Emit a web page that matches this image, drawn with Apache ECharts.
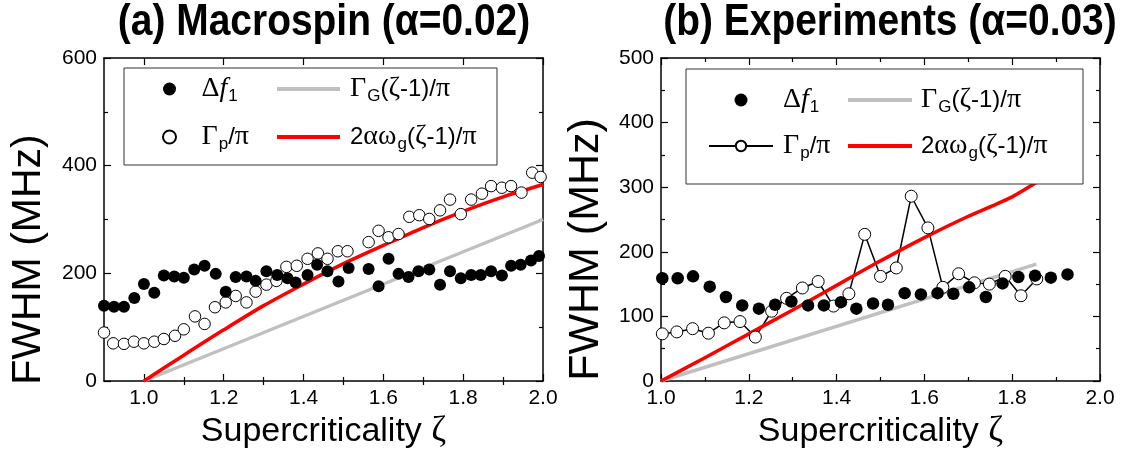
<!DOCTYPE html>
<html><head><meta charset="utf-8">
<script src="https://cdn.jsdelivr.net/npm/echarts@6/dist/echarts.min.js"></script>
<style>html,body{margin:0;padding:0;background:#fff}#c{width:1126px;height:460px}</style>
</head><body><div id="c"></div>
<script>
// ---------- data ----------
const titleA = '(a) Macrospin (α=0.02)';
const titleB = '(b) Experiments (α=0.03)';
const xMajorA = [1.0, 1.2, 1.4, 1.6, 1.8, 2.0];
const xMinorA = [1.1, 1.3, 1.5, 1.7, 1.9];

// panel (a) macrospin
const dfA = [[0.9,140],[0.925,138],[0.95,138],[0.976,154],[1.0,180],[1.026,164],[1.05,196],[1.076,194],[1.10,192],[1.126,207],[1.152,214],[1.18,199],[1.205,166],[1.23,193],[1.257,194],[1.28,186],[1.307,204],[1.334,197],[1.36,191],[1.38,183],[1.41,197],[1.434,216],[1.46,204],[1.4875,185],[1.513,210],[1.563,208],[1.588,176],[1.613,227],[1.638,199],[1.663,193],[1.688,204],[1.715,207],[1.742,179],[1.767,204],[1.794,191],[1.82,197],[1.844,197],[1.87,204],[1.897,196],[1.92,214],[1.944,216],[1.97,224],[1.99,232]];
const gpA = [[0.9,90],[0.923,70],[0.95,69],[0.975,73],[1.0,70],[1.026,73],[1.05,78],[1.078,84],[1.10,96],[1.128,120],[1.152,106],[1.178,137],[1.205,146],[1.23,158],[1.257,146],[1.28,166],[1.307,179],[1.332,186],[1.357,212],[1.383,214],[1.41,227],[1.436,237],[1.46,227],[1.486,241],[1.51,241],[1.563,258],[1.588,279],[1.613,267],[1.638,273],[1.665,305],[1.69,308],[1.715,301],[1.742,317],[1.767,337],[1.794,310],[1.82,337],[1.847,348],[1.87,362],[1.897,359],[1.92,362],[1.946,350],[1.973,387],[1.994,379]];
const gammaGA = [[1.0,0],[2.0,300]];
const alphaA = [[1.0,0],[1.1,48],[1.2,95],[1.3,140],[1.4,180],[1.5,218],[1.6,252],[1.7,285],[1.8,315],[1.9,342],[2.0,365]];

// panel (b) experiments
const dfB = [[1.003,159],[1.038,159],[1.073,162],[1.111,146],[1.148,130],[1.185,117],[1.223,112],[1.26,118],[1.297,123],[1.335,117],[1.371,117],[1.41,122],[1.445,112],[1.483,120],[1.517,118],[1.555,136],[1.592,134],[1.63,136],[1.666,135],[1.702,145],[1.74,130],[1.778,151],[1.814,161],[1.852,163],[1.888,160],[1.926,165]];
const gpB = [[1.003,73],[1.036,76],[1.072,81],[1.108,74],[1.144,90],[1.18,92],[1.215,68],[1.252,108],[1.286,128],[1.322,144],[1.358,154],[1.393,116],[1.428,135],[1.464,227],[1.5,162],[1.536,175],[1.57,286],[1.608,237],[1.642,145],[1.678,166],[1.714,152],[1.748,150],[1.784,162],[1.82,132],[1.856,158]];
const gammaGB = [[1.0,0],[1.855,181]];
const alphaB = [[1.0,0],[1.1,36],[1.2,73],[1.3,110],[1.4,148],[1.5,186],[1.6,222],[1.7,255],[1.8,285],[1.92,335]];

// ---------- styling ----------
const SANS = 'Liberation Sans, Arial, sans-serif';
const SERIF = 'Liberation Serif, Times New Roman, serif';
const legRich = {
  t: {fontFamily: SANS, fontSize: 24, color: '#000'},
  g: {fontFamily: SERIF, fontSize: 28, color: '#000'},
  gi: {fontFamily: SERIF, fontSize: 28, fontStyle: 'italic', color: '#000'},
  s: {fontFamily: SANS, fontSize: 17, color: '#000', padding: [15, 0, 0, 1]}
};
const legendText = {
  'dfA': '{g|Δ}{gi|f}{s|1}', 'dfB': '{g|Δ}{gi|f}{s|1}',
  'gpA': '{g|Γ}{s|p}{t|/}{g|π}', 'gpB': '{g|Γ}{s|p}{t|/}{g|π}',
  'ggA': '{g|Γ}{s|G}{t|(}{g|ζ}{t|-1)/}{g|π}', 'ggB': '{g|Γ}{s|G}{t|(}{g|ζ}{t|-1)/}{g|π}',
  'alA': '{t|2}{g|αω}{s|g}{t|(}{g|ζ}{t|-1)/}{g|π}', 'alB': '{t|2}{g|αω}{s|g}{t|(}{g|ζ}{t|-1)/}{g|π}'
};
const fmtLeg = n => legendText[n];

const lineAxis = {show: true, onZero: false, lineStyle: {color: '#000', width: 1.5}};
const tickStyle = {color: '#000', width: 1.2};
const labelStyle = {color: '#000', fontFamily: SANS, fontSize: 21, margin: 7};
const xName = {
  name: '{a|Supercriticality }{g|ζ}', nameLocation: 'middle', nameGap: 30,
  nameTextStyle: {rich: {a: {fontFamily: SANS, fontSize: 34, color: '#000'}, g: {fontFamily: SERIF, fontSize: 36, color: '#000'}}}
};
const titleStyle = {fontFamily: SANS, fontWeight: 'bold', fontSize: 44, fill: '#000', textAlign: 'center', textVerticalAlign: 'middle'};

function xAx(grid, pos, opts) {
  return Object.assign({type: 'value', gridIndex: grid, position: pos, axisLine: lineAxis,
    splitLine: {show: false}, axisLabel: {show: false}}, opts);
}

const option = {
  animation: false,
  backgroundColor: '#fff',
  grid: [
    {left: 104, right: 583, top: 58, bottom: 79},
    {left: 661, right: 26, top: 58, bottom: 79}
  ],
  xAxis: [
    xAx(0, 'bottom', Object.assign({min: 0.9, max: 2.0, interval: 0.1,
      axisTick: {inside: true, length: 7, lineStyle: tickStyle, customValues: xMajorA},
      axisLabel: Object.assign({show: true, customValues: xMajorA, formatter: v => v.toFixed(1)}, labelStyle)}, xName)),
    xAx(0, 'bottom', {min: 0.9, max: 2.0, interval: 0.1, axisLine: {show: false},
      axisTick: {inside: true, length: 4, lineStyle: tickStyle, customValues: xMinorA}}),
    xAx(0, 'top', {min: 0.9, max: 2.0, interval: 0.1,
      axisTick: {inside: true, length: 7, lineStyle: tickStyle, customValues: xMajorA}}),
    xAx(0, 'top', {min: 0.9, max: 2.0, interval: 0.1, axisLine: {show: false},
      axisTick: {inside: true, length: 4, lineStyle: tickStyle, customValues: xMinorA}}),
    xAx(1, 'bottom', Object.assign({min: 1.0, max: 2.0, interval: 0.2,
      axisTick: {inside: true, length: 7, lineStyle: tickStyle},
      minorTick: {show: true, splitNumber: 2, length: 4, lineStyle: tickStyle},
      axisLabel: Object.assign({show: true, formatter: v => v.toFixed(1)}, labelStyle)}, xName)),
    xAx(1, 'top', {min: 1.0, max: 2.0, interval: 0.2,
      axisTick: {inside: true, length: 7, lineStyle: tickStyle},
      minorTick: {show: true, splitNumber: 2, length: 4, lineStyle: tickStyle}})
  ],
  yAxis: [
    {type: 'value', gridIndex: 0, position: 'left', min: 0, max: 600, interval: 200, axisLine: lineAxis, splitLine: {show: false},
     axisTick: {inside: true, length: 7, lineStyle: tickStyle}, minorTick: {show: true, splitNumber: 2, length: 4, lineStyle: tickStyle},
     axisLabel: labelStyle, name: 'FWHM (MHz)', nameLocation: 'middle', nameGap: 55,
     nameTextStyle: {fontFamily: SANS, fontSize: 41, color: '#000', padding: [0, 80, 0, 0]}},
    {type: 'value', gridIndex: 0, position: 'right', min: 0, max: 600, interval: 200, axisLine: lineAxis, splitLine: {show: false},
     axisTick: {inside: true, length: 7, lineStyle: tickStyle}, minorTick: {show: true, splitNumber: 2, length: 4, lineStyle: tickStyle},
     axisLabel: {show: false}},
    {type: 'value', gridIndex: 1, position: 'left', min: 0, max: 500, interval: 100, axisLine: lineAxis, splitLine: {show: false},
     axisTick: {inside: true, length: 7, lineStyle: tickStyle}, minorTick: {show: true, splitNumber: 2, length: 4, lineStyle: tickStyle},
     axisLabel: labelStyle, name: 'FWHM (MHz)', nameLocation: 'middle', nameGap: 53,
     nameTextStyle: {fontFamily: SANS, fontSize: 43, color: '#000', padding: [0, 60, 0, 0]}},
    {type: 'value', gridIndex: 1, position: 'right', min: 0, max: 500, interval: 100, axisLine: lineAxis, splitLine: {show: false},
     axisTick: {inside: true, length: 7, lineStyle: tickStyle}, minorTick: {show: true, splitNumber: 2, length: 4, lineStyle: tickStyle},
     axisLabel: {show: false}}
  ],
  graphic: [
    {type: 'text', z: 5, x: 324, y: 23, scaleX: 0.885, style: Object.assign({text: titleA}, titleStyle)},
    {type: 'text', z: 5, x: 890, y: 23, scaleX: 0.885, style: Object.assign({text: titleB}, titleStyle)},
    {type: 'rect', z: 3, shape: {x: 124, y: 68, width: 373, height: 97}, style: {fill: '#fff', stroke: '#333', lineWidth: 1}},
    {type: 'rect', z: 3, shape: {x: 686, y: 69, width: 397, height: 115}, style: {fill: '#fff', stroke: '#333', lineWidth: 1}}
  ],
  legend: [
    {data: ['dfA', 'gpA'], orient: 'vertical', left: 162, top: 75, padding: 0, itemWidth: 54, itemHeight: 13, itemGap: 18,
     formatter: fmtLeg, textStyle: {rich: legRich}, selectedMode: false},
    {data: [{name: 'ggA', icon: 'rect'}, {name: 'alA', icon: 'rect'}], orient: 'vertical', left: 277, top: 75, padding: 0,
     itemWidth: 63, itemHeight: 4, itemGap: 18, itemStyle: {borderWidth: 0},
     formatter: fmtLeg, textStyle: {rich: legRich, padding: [0, 0, 0, 5]}, selectedMode: false},
    {data: ['dfB', 'gpB'], orient: 'vertical', left: 708, top: 86, padding: 0, itemWidth: 64, itemHeight: 13, itemGap: 16,
     formatter: fmtLeg, textStyle: {rich: legRich, padding: [0, 0, 0, 5]}, selectedMode: false},
    {data: [{name: 'ggB', icon: 'rect'}, {name: 'alB', icon: 'rect'}], orient: 'vertical', left: 848, top: 86, padding: 0,
     itemWidth: 64, itemHeight: 4, itemGap: 16, itemStyle: {borderWidth: 0},
     formatter: fmtLeg, textStyle: {rich: legRich, padding: [0, 0, 0, 4]}, selectedMode: false}
  ],
  series: [
    {name: 'gpA', type: 'scatter', xAxisIndex: 0, yAxisIndex: 0, data: gpA, symbol: 'circle', symbolSize: 11.5,
     itemStyle: {color: '#fff', borderColor: '#000', borderWidth: 1, opacity: 1}, z: 2},
    {name: 'dfA', type: 'scatter', xAxisIndex: 0, yAxisIndex: 0, data: dfA, symbol: 'circle', symbolSize: 12,
     itemStyle: {color: '#000', borderColor: '#000', borderWidth: 0, opacity: 1}, z: 2},
    {name: 'ggA', type: 'line', xAxisIndex: 0, yAxisIndex: 0, data: gammaGA, showSymbol: false, symbol: 'none', color: '#c0c0c0',
     lineStyle: {color: '#c0c0c0', width: 3.5}, z: 2},
    {name: 'alA', type: 'line', xAxisIndex: 0, yAxisIndex: 0, data: alphaA, showSymbol: false, symbol: 'none', smooth: 0.3, color: '#ff0000',
     lineStyle: {color: '#ff0000', width: 3.5}, z: 2},

    {name: 'gpB', type: 'line', xAxisIndex: 4, yAxisIndex: 2, data: gpB, symbol: 'circle', symbolSize: 12, showAllSymbol: true,
     color: '#000', lineStyle: {color: '#000', width: 1.5}, itemStyle: {color: '#fff', borderColor: '#000', borderWidth: 1}, z: 2},
    {name: 'dfB', type: 'scatter', xAxisIndex: 4, yAxisIndex: 2, data: dfB, symbol: 'circle', symbolSize: 12.5,
     itemStyle: {color: '#000', borderWidth: 0, opacity: 1}, z: 2},
    {name: 'ggB', type: 'line', xAxisIndex: 4, yAxisIndex: 2, data: gammaGB, showSymbol: false, symbol: 'none', color: '#c0c0c0',
     lineStyle: {color: '#c0c0c0', width: 3.5}, z: 2},
    {name: 'alB', type: 'line', xAxisIndex: 4, yAxisIndex: 2, data: alphaB, showSymbol: false, symbol: 'none', smooth: 0.2, color: '#ff0000',
     lineStyle: {color: '#ff0000', width: 3.5}, z: 2}
  ]
};
const chart = echarts.init(document.getElementById('c'), null, {renderer: 'canvas'});
chart.setOption(option);
</script></body></html>
